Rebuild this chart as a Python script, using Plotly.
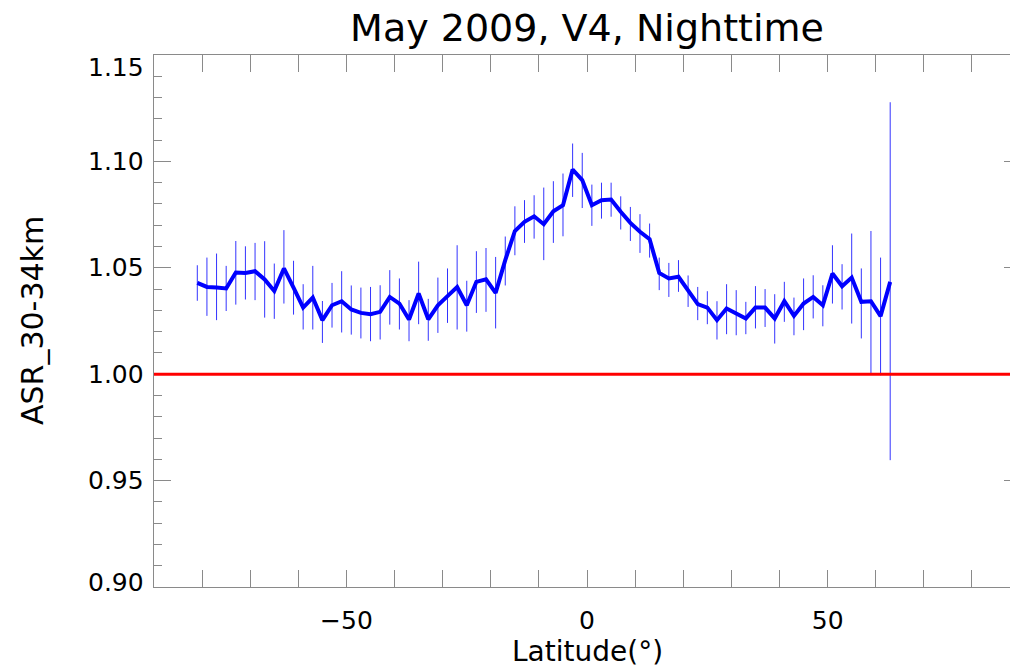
import plotly.graph_objects as go

# Latitude bin centres (degrees)
lat = [-81, -79, -77, -75, -73, -71, -69, -67, -65, -63, -61, -59, -57, -55, -53,
       -51, -49, -47, -45, -43, -41, -39, -37, -35, -33, -31, -29, -27, -25, -23,
       -21, -19, -17, -15, -13, -11, -9, -7, -5, -3, -1, 1, 3, 5, 7,
       9, 11, 13, 15, 17, 19, 21, 23, 25, 27, 29, 31, 33, 35, 37,
       39, 41, 43, 45, 47, 49, 51, 53, 55, 57, 59, 61, 63]

# Mean aerosol scattering ratio, 30-34 km
asr = [1.0429, 1.0410, 1.0407, 1.0403, 1.0478, 1.0476, 1.0484, 1.0445, 1.0391, 1.0497,
       1.0407, 1.0313, 1.0360, 1.0254, 1.0324, 1.0343, 1.0304, 1.0288, 1.0282, 1.0293,
       1.0363, 1.0332, 1.0257, 1.0379, 1.0258, 1.0324, 1.0367, 1.0410, 1.0324, 1.0434,
       1.0446, 1.0382, 1.0536, 1.0673, 1.0716, 1.0742, 1.0705, 1.0766, 1.0794, 1.0962,
       1.0912, 1.0794, 1.0818, 1.0821, 1.0763, 1.0711, 1.0669, 1.0634, 1.0476, 1.0450,
       1.0458, 1.0392, 1.0329, 1.0313, 1.0254, 1.0309, 1.0288, 1.0262, 1.0313, 1.0313,
       1.0262, 1.0343, 1.0274, 1.0332, 1.0363, 1.0324, 1.0473, 1.0413, 1.0454, 1.0340,
       1.0343, 1.0273, 1.0434]

# Upper and lower ends of the uncertainty bars
asr_hi = [1.0512, 1.0548, 1.0567, 1.0509, 1.0626, 1.0601, 1.0617, 1.0625, 1.0520, 1.0677,
          1.0533, 1.0423, 1.0509, 1.0344, 1.0429, 1.0484, 1.0417, 1.0407, 1.0410, 1.0418,
          1.0489, 1.0450, 1.0348, 1.0529, 1.0354, 1.0454, 1.0497, 1.0606, 1.0439, 1.0578,
          1.0593, 1.0551, 1.0647, 1.0789, 1.0818, 1.0841, 1.0877, 1.0907, 1.0943, 1.1084,
          1.1040, 1.0891, 1.0900, 1.0900, 1.0836, 1.0786, 1.0752, 1.0708, 1.0548, 1.0523,
          1.0536, 1.0464, 1.0410, 1.0390, 1.0343, 1.0423, 1.0395, 1.0340, 1.0414, 1.0400,
          1.0376, 1.0434, 1.0360, 1.0450, 1.0465, 1.0418, 1.0606, 1.0517, 1.0661, 1.0497,
          1.0673, 1.0548, 1.1278]
asr_lo = [1.0345, 1.0274, 1.0254, 1.0297, 1.0327, 1.0351, 1.0348, 1.0266, 1.0260, 1.0332,
          1.0280, 1.0210, 1.0210, 1.0147, 1.0219, 1.0196, 1.0186, 1.0168, 1.0155, 1.0163,
          1.0233, 1.0210, 1.0155, 1.0235, 1.0157, 1.0194, 1.0241, 1.0210, 1.0200, 1.0288,
          1.0293, 1.0215, 1.0417, 1.0559, 1.0617, 1.0637, 1.0536, 1.0617, 1.0648, 1.0833,
          1.0781, 1.0697, 1.0731, 1.0740, 1.0680, 1.0626, 1.0570, 1.0548, 1.0395, 1.0363,
          1.0387, 1.0316, 1.0254, 1.0235, 1.0163, 1.0188, 1.0183, 1.0188, 1.0215, 1.0222,
          1.0144, 1.0246, 1.0183, 1.0207, 1.0262, 1.0225, 1.0332, 1.0304, 1.0238, 1.0168,
          1.0003, 0.9995, 0.9596]

reference_level = 1.0
ytick_vals = [0.90, 0.95, 1.00, 1.05, 1.10, 1.15]
ytick_text = ["0.90", "0.95", "1.00", "1.05", "1.10", "1.15"]

err_plus = [h - v for h, v in zip(asr_hi, asr)]
err_minus = [v - l for v, l in zip(asr, asr_lo)]

AXIS_GREY = "#8a8a8a"
FONT = "DejaVu Sans"

fig = go.Figure()

fig.add_trace(go.Scatter(
    x=lat, y=asr, mode="lines",
    line=dict(color="#0000ff", width=4),
    error_y=dict(type="data", symmetric=False, array=err_plus, arrayminus=err_minus,
                 color="rgba(0,0,255,0.8)", thickness=1, width=0),
    showlegend=False, hoverinfo="x+y",
))

# Horizontal reference line at ASR = 1
fig.add_trace(go.Scatter(
    x=[-90, 90], y=[reference_level, reference_level], mode="lines",
    line=dict(color="#ff0000", width=3), yaxis="y2",
    showlegend=False, hoverinfo="skip",
))

fig.update_layout(
    width=1010, height=671,
    margin=dict(l=154, r=0, t=55, b=84),
    paper_bgcolor="white", plot_bgcolor="white",
    font=dict(family=FONT, color="black"),
    title=dict(text="May 2009, V4, Nighttime", font=dict(size=38, family=FONT),
               x=587 / 1010, xanchor="center", xref="container",
               y=1 - 28 / 671, yanchor="middle", yref="container"),
    xaxis=dict(
        range=[-90, 87.9], showgrid=False, zeroline=False,
        showline=True, linecolor=AXIS_GREY, linewidth=1, mirror="allticks",
        ticks="inside", ticklen=17, tickcolor=AXIS_GREY, tickwidth=1,
        tick0=0, dtick=50, tickfont=dict(size=25, family=FONT),
        ticklabelstandoff=11, layer="below traces",
        minor=dict(dtick=10, ticks="inside", ticklen=8, tickcolor=AXIS_GREY),
    ),
    yaxis=dict(
        range=[0.90, 1.15], showgrid=False, zeroline=False,
        showline=True, linecolor=AXIS_GREY, linewidth=1,
        ticks="inside", ticklen=17, tickcolor=AXIS_GREY, tickwidth=1,
        tickvals=ytick_vals, showticklabels=False, layer="below traces",
        minor=dict(dtick=0.01, ticks="inside", ticklen=8, tickcolor=AXIS_GREY),
    ),
    yaxis2=dict(
        range=[0.90, 1.15], overlaying="y", side="right", anchor="x",
        showgrid=False, zeroline=False, showline=False,
        ticks="inside", ticklen=6, tickcolor=AXIS_GREY, tickvals=ytick_vals,
        showticklabels=False, layer="below traces",
    ),
)

# Left-hand tick labels
label_shift = {1.15: -12, 0.90: 5}
for v, t in zip(ytick_vals, ytick_text):
    fig.add_annotation(x=0, xref="paper", xanchor="right", xshift=-8,
                       y=v, yref="y", yanchor="middle", yshift=label_shift.get(v, 0),
                       text=t, showarrow=False, font=dict(size=25, family=FONT))

# Axis titles
fig.add_annotation(x=0, xref="paper", xanchor="center", xshift=-122,
                   y=0.5, yref="paper", yanchor="middle", textangle=-90,
                   text="ASR_30-34km", showarrow=False, font=dict(size=30, family=FONT))
fig.add_annotation(x=(587 - 154) / 856, xref="paper", xanchor="center",
                   y=0, yref="paper", yanchor="bottom", yshift=-83,
                   text="Latitude(°)", showarrow=False, font=dict(size=28, family=FONT))

fig.write_html("out.html")
